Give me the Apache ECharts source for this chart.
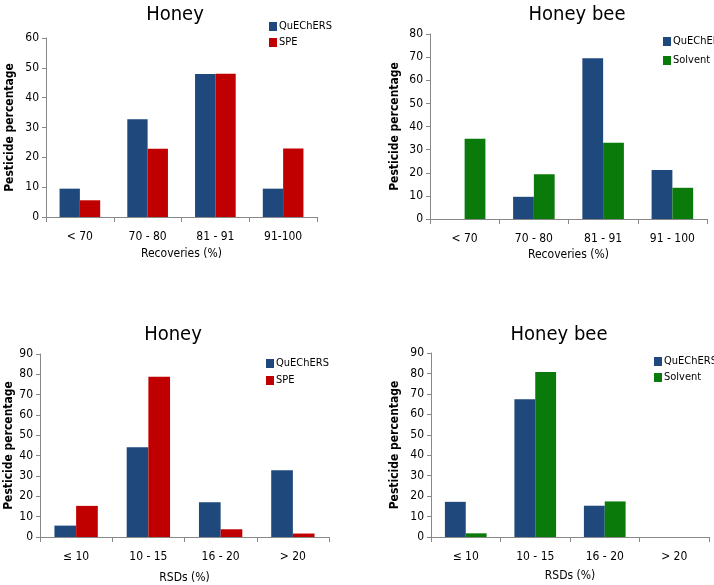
<!DOCTYPE html>
<html><head><meta charset="utf-8">
<script src="https://cdn.jsdelivr.net/npm/echarts@6/dist/echarts.min.js"></script>
<style>html,body{margin:0;padding:0;background:#fff}#c{width:714px;height:585px}</style>
</head><body><div id="c"></div>
<script>
const recCats = ['< 70', '70 - 80', '81 - 91', '91-100'];
const recCatsBee = ['< 70', '70 - 80', '81 - 91', '91 - 100'];
const rsdCats = ['≤ 10', '10 - 15', '16 - 20', '> 20'];
const honeyRecQuechers = [9.5, 32.8, 47.9, 9.5];
const honeyRecSpe = [5.6, 22.9, 48, 23];
const beeRecQuechers = [0, 9.6, 69.5, 21.2];
const beeRecSolvent = [34.7, 19.3, 33, 13.5];
const honeyRsdQuechers = [5.6, 44.1, 17.1, 32.8];
const honeyRsdSpe = [15.3, 78.8, 3.8, 1.7];
const beeRsdQuechers = [17.2, 67.4, 15.3, 0];
const beeRsdSolvent = [1.8, 80.7, 17.4, 0];

const BLUE = '#1f497d', RED = '#c00000', GREEN = '#0a7a0a';
const FONT = '"DejaVu Sans Condensed", "Liberation Sans Narrow", Roboto, sans-serif';
const panels = [
  {grid:{left:46, top:38, width:271, height:179}, title:'Honey', tx:170, ty:0, cats:recCats, max:60, interval:10,
   xname:'Recoveries (%)', ng:31, yg:30, s:[['QuEChERS', honeyRecQuechers, BLUE], ['SPE', honeyRecSpe, RED]], lx:264, ly:16, lg:5},
  {grid:{left:430, top:34, width:277, height:185}, title:'Honey bee', tx:572, ty:0, cats:recCatsBee, max:80, interval:10,
   xname:'Recoveries (%)', ng:30, yg:29, s:[['QuEChERS', beeRecQuechers, BLUE], ['Solvent', beeRecSolvent, GREEN]], lx:658, ly:31, lg:8},
  {grid:{left:40, top:354, width:289, height:183}, title:'Honey', tx:168, ty:320, cats:rsdCats, max:90, interval:10,
   xname:'RSDs (%)', ng:35, yg:24, s:[['QuEChERS', honeyRsdQuechers, BLUE], ['SPE', honeyRsdSpe, RED]], lx:261, ly:353, lg:6},
  {grid:{left:431, top:353, width:278, height:184}, title:'Honey bee', tx:554, ty:320, cats:rsdCats, max:90, interval:10,
   xname:'RSDs (%)', ng:33, yg:30, s:[['QuEChERS', beeRsdQuechers, BLUE], ['Solvent', beeRsdSolvent, GREEN]], lx:649, ly:351, lg:5}
];

const option = {animation:false, grid:[], xAxis:[], yAxis:[], series:[], title:[], legend:[]};
panels.forEach((p, i) => {
  option.grid.push(Object.assign({containLabel:false, outerBoundsMode:'none'}, p.grid));
  option.title.push({text:p.title, left:p.tx, top:p.ty, textAlign:'center',
    textStyle:{fontFamily:FONT, fontSize:20, fontWeight:'normal', color:'#000'}});
  option.xAxis.push({type:'category', gridIndex:i, data:p.cats, boundaryGap:true,
    axisLine:{lineStyle:{color:'#888'}}, axisTick:{show:true, inside:false, length:5, lineStyle:{color:'#888'}},
    axisLabel:{color:'#000', fontFamily:FONT, fontSize:12, margin:14},
    name:p.xname, nameLocation:'middle', nameGap:p.ng,
    nameTextStyle:{color:'#000', fontFamily:FONT, fontSize:12}});
  option.yAxis.push({type:'value', gridIndex:i, min:0, max:p.max, interval:p.interval,
    axisLine:{show:true, lineStyle:{color:'#888'}}, axisTick:{show:true, length:4, lineStyle:{color:'#888'}},
    splitLine:{show:false},
    axisLabel:{color:'#000', fontFamily:FONT, fontSize:12, margin:7},
    name:'Pesticide percentage', nameLocation:'middle', nameGap:p.yg,
    nameTextStyle:{color:'#000', fontFamily:FONT, fontSize:12, fontWeight:'bold'}});
  p.s.forEach(([name, data, color]) => {
    option.series.push({type:'bar', name, data, xAxisIndex:i, yAxisIndex:i,
      barGap:'0%', barCategoryGap:'40%',
      itemStyle:{color}});
  });
  option.legend.push({left:p.lx, top:p.ly, orient:'vertical', itemWidth:8, itemHeight:9, itemGap:p.lg,
    icon:'rect', data:p.s.map(x => x[0]),
    textStyle:{color:'#000', fontFamily:FONT, fontSize:11, padding:[0,0,0,-3]}});
});
echarts.init(document.getElementById('c'), null, {renderer:'canvas'}).setOption(option);
</script></body></html>
